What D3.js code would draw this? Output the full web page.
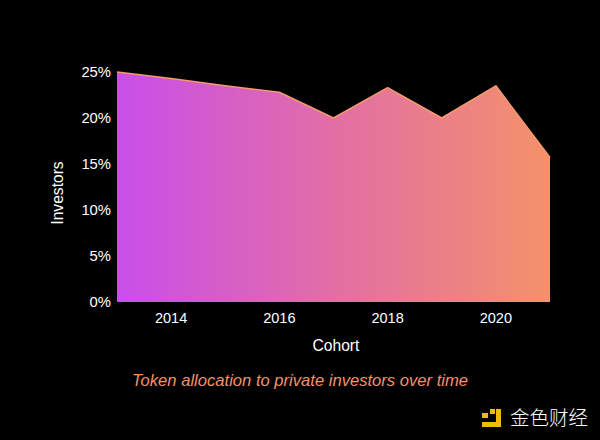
<!DOCTYPE html>
<html><head><meta charset="utf-8">
<script src="https://cdn.jsdelivr.net/npm/d3@7"></script>
<style>body{margin:0;background:#000;}svg{display:block;}</style>
</head><body>
<script>
const years = [2013, 2014, 2015, 2016, 2017, 2018, 2019, 2020, 2021];
const values = [25.0, 24.3, 23.5, 22.8, 20.0, 23.3, 20.0, 23.5, 15.7];
const yTicks = [0, 5, 10, 15, 20, 25];
const xTicks = [2014, 2016, 2018, 2020];

const W = 600, H = 440;
const svg = d3.select("body").append("svg").attr("width", W).attr("height", H);
svg.append("rect").attr("width", W).attr("height", H).attr("fill", "#000");

const x = d3.scaleLinear().domain([2013, 2021]).range([117, 550]);
const y = d3.scaleLinear().domain([0, 25]).range([302, 72]);
const font = "Helvetica, Arial, 'Liberation Sans', sans-serif";

const defs = svg.append("defs");
const grad = defs.append("linearGradient").attr("id", "g").attr("gradientUnits", "userSpaceOnUse")
  .attr("x1", 117).attr("x2", 550).attr("y1", 0).attr("y2", 0);
grad.append("stop").attr("offset", "0%").attr("stop-color", "#c84eea");
grad.append("stop").attr("offset", "50%").attr("stop-color", "#e26ea5");
grad.append("stop").attr("offset", "100%").attr("stop-color", "#f5916a");

const data = years.map((yr, i) => ({yr, v: values[i]}));
const area = d3.area().x(d => x(d.yr)).y0(y(0)).y1(d => y(d.v));
const line = d3.line().x(d => x(d.yr)).y(d => y(d.v));

svg.append("path").datum(data).attr("d", area).attr("fill", "url(#g)");
svg.append("path").datum(data).attr("d", line).attr("fill", "none")
  .attr("stroke", "#f39a6e").attr("stroke-width", 1.5).attr("stroke-linejoin", "round");

// y axis labels
svg.append("g").selectAll("text").data(yTicks).join("text")
  .attr("x", 111).attr("y", d => y(d)).attr("dy", "0.35em")
  .attr("text-anchor", "end").attr("fill", "#fff")
  .attr("font-family", font).attr("font-size", 14.8).text(d => d + "%");

// x axis labels
svg.append("g").selectAll("text").data(xTicks).join("text")
  .attr("x", d => x(d)).attr("y", 318).attr("dy", "0.35em")
  .attr("text-anchor", "middle").attr("fill", "#fff")
  .attr("font-family", font).attr("font-size", 14.5).text(d => d);

svg.append("text").attr("transform", "translate(63,193) rotate(-90)")
  .attr("text-anchor", "middle").attr("fill", "#fff")
  .attr("font-family", font).attr("font-size", 15.6).text("Investors");

svg.append("text").attr("x", 336).attr("y", 346).attr("dy", "0.35em")
  .attr("text-anchor", "middle").attr("fill", "#fff")
  .attr("font-family", font).attr("font-size", 15.6).text("Cohort");

svg.append("text").attr("x", 300).attr("y", 380).attr("dy", "0.35em")
  .attr("text-anchor", "middle").attr("fill", "#f5916a").attr("font-style", "italic")
  .attr("font-family", font).attr("font-size", 16.6).text("Token allocation to private investors over time");

// watermark
const wm = svg.append("g").attr("fill", "#f0b90b");
wm.append("rect").attr("x", 482).attr("y", 413).attr("width", 6).attr("height", 5);
wm.append("rect").attr("x", 490).attr("y", 409).attr("width", 5).attr("height", 5);
wm.append("path").attr("d", "M496,409 L501,409 L501,427 L482,427 L482,422 L496,422 Z");
wm.append("text").attr("x", 510).attr("y", 418).attr("dy", "0.35em").attr("fill", "#fff")
  .attr("font-family", "'Noto Sans CJK SC', sans-serif").attr("font-weight", 300)
  .attr("font-size", 19.5).text("金色财经");
</script>
</body></html>
